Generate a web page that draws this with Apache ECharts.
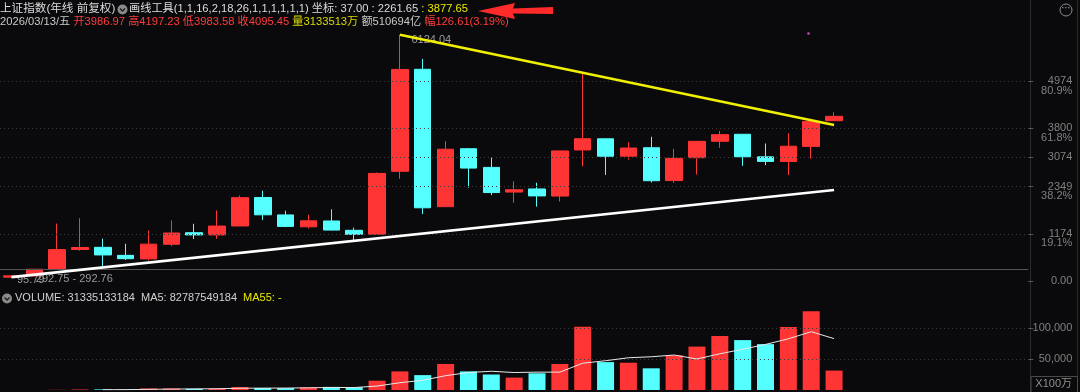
<!DOCTYPE html>
<html><head><meta charset="utf-8">
<script src="https://cdn.jsdelivr.net/npm/echarts@6/dist/echarts.min.js"></script>
<style>html,body{margin:0;padding:0;background:#0a0a0c;overflow:hidden}#c{width:1080px;height:392px}</style>
</head><body><div id="c"></div>
<script>
// ---- data (yearly candles, Shanghai Composite) ----
const years = ['1990','1991','1992','1993','1994','1995','1996','1997','1998','1999','2000','2001','2002','2003','2004','2005','2006','2007','2008','2009','2010','2011','2012','2013','2014','2015','2016','2017','2018','2019','2020','2021','2022','2023','2024','2025','2026'];
const emptySlots = ['','','','','','','',''];
const openP  = [96.05,127.61,293.74,784.13,837.70,637.72,550.26,914.06,1200.95,1144.89,1368.69,2077.08,1643.48,1347.43,1492.72,1260.78,1163.88,2728.19,5265.00,1849.02,3289.75,2825.33,2212.00,2289.51,2112.13,3258.63,3536.59,3105.31,3314.03,2497.88,3066.34,3474.68,3649.15,3087.51,2972.78,3347.94,3986.97];
const highP  = [127.61,292.75,1429.01,1558.95,1052.94,926.41,1258.69,1510.18,1422.98,1756.18,2125.72,2245.44,1748.89,1649.60,1783.01,1328.53,2698.90,6124.04,5522.78,3478.01,3306.75,3067.46,2478.38,2444.80,3239.36,5178.19,3538.69,3450.49,3587.03,3288.45,3474.92,3731.69,3651.89,3418.95,3674.41,4034.08,4197.23];
const lowP   = [95.79,105.77,292.76,750.46,325.89,524.43,512.83,870.18,1043.02,1047.83,1361.21,1514.86,1339.20,1307.40,1259.43,998.23,1161.91,2541.52,1664.93,1844.09,2319.74,2134.02,1949.46,1849.65,1974.38,2850.71,2638.30,3016.53,2449.20,2440.91,2646.80,3312.72,2863.65,2882.02,2635.09,3040.69,3983.58];
const closeP = [127.61,292.75,780.39,833.80,647.87,555.29,917.02,1194.10,1146.70,1366.58,2073.48,1645.97,1357.65,1497.04,1266.50,1161.06,2675.47,5261.56,1820.81,3277.14,2808.08,2199.42,2269.13,2115.98,3234.68,3539.18,3103.64,3307.17,2493.90,3050.12,3473.07,3639.78,3089.26,2974.93,3351.76,3968.84,4095.45];
// volume in units of 100万
const volume = [0,50,300,800,1000,700,2500,2500,2000,2500,4800,3200,3000,4200,5000,4500,15000,30000,24000,42000,30000,25000,20000,27000,42000,102000,45000,44000,35000,56000,70000,87000,80500,74000,101500,127000,31335];
// drawing-tool trend lines
const resistanceLine = [['2007', 6124.04], ['2026', 3877.65]];
const supportLine = [['1990', 95.79], ['2026', 2261.65]];
// axis ticks
const priceTicks = [0, 1174, 2349, 3074, 3800, 4974];
const fibTicks = [1174, 2349, 3800, 4974];
const fibLabels = ['19.1%', '38.2%', '61.8%', '80.9%'];
const gapLevel = 292.75;
const volTicks = [50000, 100000];

// ---- build ----
const RED = '#ff3434', CYAN = '#55ffff';
const cats = years.concat(emptySlots);
const candles = years.map((y, i) => [openP[i], closeP[i], lowP[i], highP[i]]);
const volBars = volume.map((v, i) => ({ value: v, itemStyle: { color: closeP[i] >= openP[i] ? RED : CYAN } }));
const ma5 = volume.map((v, i) => {
  if (i < 4) return null;
  let s = 0; for (let k = i - 4; k <= i; k++) s += volume[k];
  return s / 5;
});
const FONT = '"Liberation Sans", "Noto Sans CJK SC", sans-serif';
const GL = -2.78, GR = 51.7;

const chart = echarts.init(document.getElementById('c'), null, { renderer: 'canvas' });
chart.setOption({
  animation: false,
  backgroundColor: '#0a0a0c',
  textStyle: { fontFamily: FONT },
  title: [
    { left: 0, top: 3, padding: 0, text: '上证指数(年线 前复权)', textStyle: { color: '#dcdcdc', fontSize: 11.6, fontWeight: 'normal', fontFamily: FONT } },
    { left: 129, top: 3, padding: 0, text: '{w|画线工具(1,1,16,2,18,26,1,1,1,1,1,1) 坐标: 37.00 : 2261.65 }{y|: 3877.65}',
      textStyle: { fontSize: 11.2, fontWeight: 'normal', fontFamily: FONT, rich: { w: { color: '#dcdcdc', fontSize: 11.2, fontFamily: FONT }, y: { color: '#e8e800', fontSize: 11.2, fontFamily: FONT } } } },
    { left: 0, top: 16, padding: 0, text: '{g|2026/03/13/五 }{r|开3986.97 高4197.23 低3983.58 收4095.45 }{y|量3133513万 }{g|额510694亿 }{r|幅126.61(3.19%)}',
      textStyle: { fontSize: 11, fontWeight: 'normal', fontFamily: FONT, rich: {
        g: { color: '#c8c8c8', fontSize: 11.2, fontFamily: FONT },
        r: { color: '#ff3c3c', fontSize: 11.2, fontFamily: FONT },
        y: { color: '#d8d800', fontSize: 11.2, fontFamily: FONT } } } },
    { left: 15, top: 292, padding: 0, text: '{w|VOLUME: 31335133184  MA5: 82787549184  }{y|MA55: -}',
      textStyle: { fontSize: 11, fontWeight: 'normal', fontFamily: FONT, rich: { w: { color: '#d0d0d0', fontSize: 11, fontFamily: FONT }, y: { color: '#e8e800', fontSize: 11, fontFamily: FONT } } } }
  ],
  grid: [
    { left: GL, right: GR, top: 33.8, height: 247.2 },
    { left: GL, right: GR, top: 309.4, height: 80.6 }
  ],
  xAxis: [
    { type: 'category', gridIndex: 0, data: cats, boundaryGap: true, show: false },
    { type: 'category', gridIndex: 1, data: cats, boundaryGap: true, show: false }
  ],
  yAxis: [
    { type: 'value', gridIndex: 0, position: 'right', min: 0, max: 6148,
      axisLine: { show: false }, splitLine: { show: false },
      axisTick: { show: true, customValues: priceTicks, length: 5, lineStyle: { color: '#5a5a5a' } },
      axisLabel: { customValues: priceTicks, margin: 44, align: 'right', color: '#808080', fontSize: 11, fontFamily: FONT,
        formatter: v => v === 0 ? '0.00' : String(v) } },
    { type: 'value', gridIndex: 0, position: 'right', min: 0, max: 6148,
      axisLine: { show: false }, splitLine: { show: false }, axisTick: { show: false },
      axisLabel: { customValues: fibTicks, margin: 44, align: 'right', verticalAlign: 'top', padding: [4, 0, 0, 0], color: '#808080', fontSize: 11, fontFamily: FONT,
        formatter: v => fibLabels[fibTicks.indexOf(v)] || '' } },
    { type: 'value', gridIndex: 1, position: 'right', min: 0, max: 130000,
      axisLine: { show: false }, splitLine: { show: false },
      axisTick: { show: true, customValues: volTicks, length: 5, lineStyle: { color: '#5a5a5a' } },
      axisLabel: { customValues: volTicks, margin: 44, align: 'right', color: '#808080', fontSize: 11, fontFamily: FONT } }
  ],
  series: [
    { type: 'candlestick', xAxisIndex: 0, yAxisIndex: 0, data: candles, barWidth: 17,
      itemStyle: { color: RED, color0: CYAN, borderColor: RED, borderColor0: CYAN, borderWidth: 1 },
      markLine: { silent: true, symbol: 'none', animation: false,
        data: [
          ...fibTicks.concat([3074]).map(v => ({ yAxis: v, lineStyle: { color: '#3c3c3c', type: [1, 3], width: 1 }, label: { show: false } })),
          { yAxis: gapLevel, lineStyle: { color: '#555', type: 'solid', width: 1 }, label: { show: false } }
        ] },
      markPoint: { silent: true, animation: false,
        data: [
          { coord: ['2007', 6124.04], symbol: 'circle', symbolSize: 1, itemStyle: { color: 'rgba(0,0,0,0)' },
            label: { show: true, formatter: '6124.04', position: [12, 0], color: '#9a9a9a', fontSize: 11, fontFamily: FONT } },
          { coord: ['1990', 95.79], symbol: 'circle', symbolSize: 1, itemStyle: { color: 'rgba(0,0,0,0)' },
            label: { show: true, formatter: '95.79', position: [6, -2], color: '#9a9a9a', fontSize: 11, fontFamily: FONT } },
          { coord: ['1991', gapLevel], symbol: 'circle', symbolSize: 1, itemStyle: { color: 'rgba(0,0,0,0)' },
            label: { show: true, formatter: '292.75 - 292.76', position: [2, 5], color: '#9a9a9a', fontSize: 11, fontFamily: FONT } }
        ] } },
    { type: 'line', xAxisIndex: 0, yAxisIndex: 0, data: resistanceLine, symbol: 'none', lineStyle: { color: '#f0f000', width: 2.6 }, z: 5 },
    { type: 'line', xAxisIndex: 0, yAxisIndex: 0, data: supportLine, symbol: 'none', lineStyle: { color: '#ffffff', width: 2.6 }, z: 5 },
    { type: 'bar', xAxisIndex: 1, yAxisIndex: 2, data: volBars, barWidth: 17,
      markLine: { silent: true, symbol: 'none', animation: false,
        data: volTicks.map(v => ({ yAxis: v, lineStyle: { color: '#3c3c3c', type: [1, 3], width: 1 }, label: { show: false } })) } },
    { type: 'line', xAxisIndex: 1, yAxisIndex: 2, data: ma5, symbol: 'none', lineStyle: { color: '#e8e8e8', width: 1 }, z: 5 }
  ],
  graphic: [
    { type: 'line', shape: { x1: 1030.5, y1: 0, x2: 1030.5, y2: 392 }, style: { stroke: '#2c2c2c', lineWidth: 1 }, silent: true },
    { type: 'line', shape: { x1: 1077.5, y1: 0, x2: 1077.5, y2: 392 }, style: { stroke: '#2c2c2c', lineWidth: 1 }, silent: true },
    { type: 'rect', shape: { x: 1031, y: 376.5, width: 46.5, height: 16 }, style: { fill: 'none', stroke: '#4a4a4a', lineWidth: 1 }, silent: true },
    { type: 'text', x: 1072, y: 384, style: { text: 'X100万', fill: '#909090', font: '11px ' + FONT, textAlign: 'right', textVerticalAlign: 'middle' }, silent: true },
    // header icons
    { type: 'circle', shape: { cx: 122.5, cy: 9.5, r: 5 }, style: { fill: '#8a8a8a' }, silent: true },
    { type: 'polyline', shape: { points: [[120, 8.5], [122.5, 11], [125, 8.5]] }, style: { stroke: '#1a1a1a', lineWidth: 1.3, fill: 'none' }, silent: true },
    { type: 'circle', shape: { cx: 7, cy: 298.5, r: 5 }, style: { fill: '#8a8a8a' }, silent: true },
    { type: 'polyline', shape: { points: [[4.5, 297.5], [7, 300], [9.5, 297.5]] }, style: { stroke: '#1a1a1a', lineWidth: 1.3, fill: 'none' }, silent: true },
    { type: 'circle', shape: { cx: 1066, cy: 10, r: 6 }, style: { fill: 'none', stroke: '#8a8a8a', lineWidth: 1 }, silent: true },
    { type: 'text', x: 1066, y: 9, style: { text: '···', fill: '#8a8a8a', font: 'bold 9px ' + FONT, textAlign: 'center', textVerticalAlign: 'middle' }, silent: true },
    // red hand-drawn arrow
    { type: 'polygon', shape: { points: [[478, 11], [515, 3], [513, 8.5], [553, 7], [553, 14], [513, 13.5], [515, 19]] }, style: { fill: '#ff2a2a' }, silent: true },
    // small magenta dot
    { type: 'circle', shape: { cx: 808.5, cy: 33.5, r: 1.3 }, style: { fill: '#d040d0' }, silent: true }
  ]
});
</script></body></html>
